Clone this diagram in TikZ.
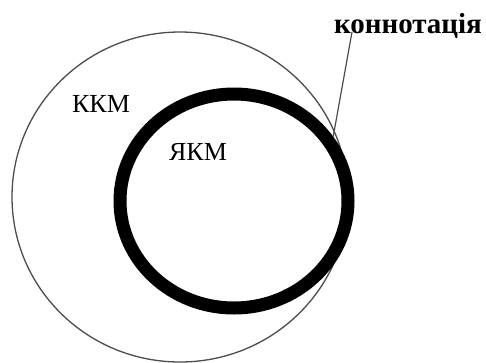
\documentclass[tikz,border=0pt]{standalone}
\usepackage{fontspec}
\setmainfont{Liberation Serif}
\usetikzlibrary{shapes.geometric}

\begin{document}
\begin{tikzpicture}[x=1pt, y=-1pt,
  lbl/.style={font=\fontsize{26}{30}\selectfont, inner sep=0pt},
  ring/.style={draw, ellipse, inner sep=0pt}]
  \useasboundingbox (0,0) rectangle (486,362);
  % circles
  \node[ring, draw=black!70, line width=1.3pt,
    minimum width=336pt, minimum height=330pt] (kkmring) at (180,197) {};
  \node[ring, line width=13pt,
    minimum width=228pt, minimum height=214pt] (jkmring) at (234,201) {};
  % labels
  \node[lbl] (kkm) at (101,104) {ККМ};
  \node[lbl] (jkm) at (198,152) {ЯКМ};
  \node[lbl, font=\fontsize{29}{32}\selectfont\bfseries, anchor=base]
    (konn) at (408,33) {коннотація};
  % pointer
  \coordinate (tail) at (352,32);
  \draw[black!70, line width=1.2pt] (tail) -- (jkmring.33);
\end{tikzpicture}
\end{document}
